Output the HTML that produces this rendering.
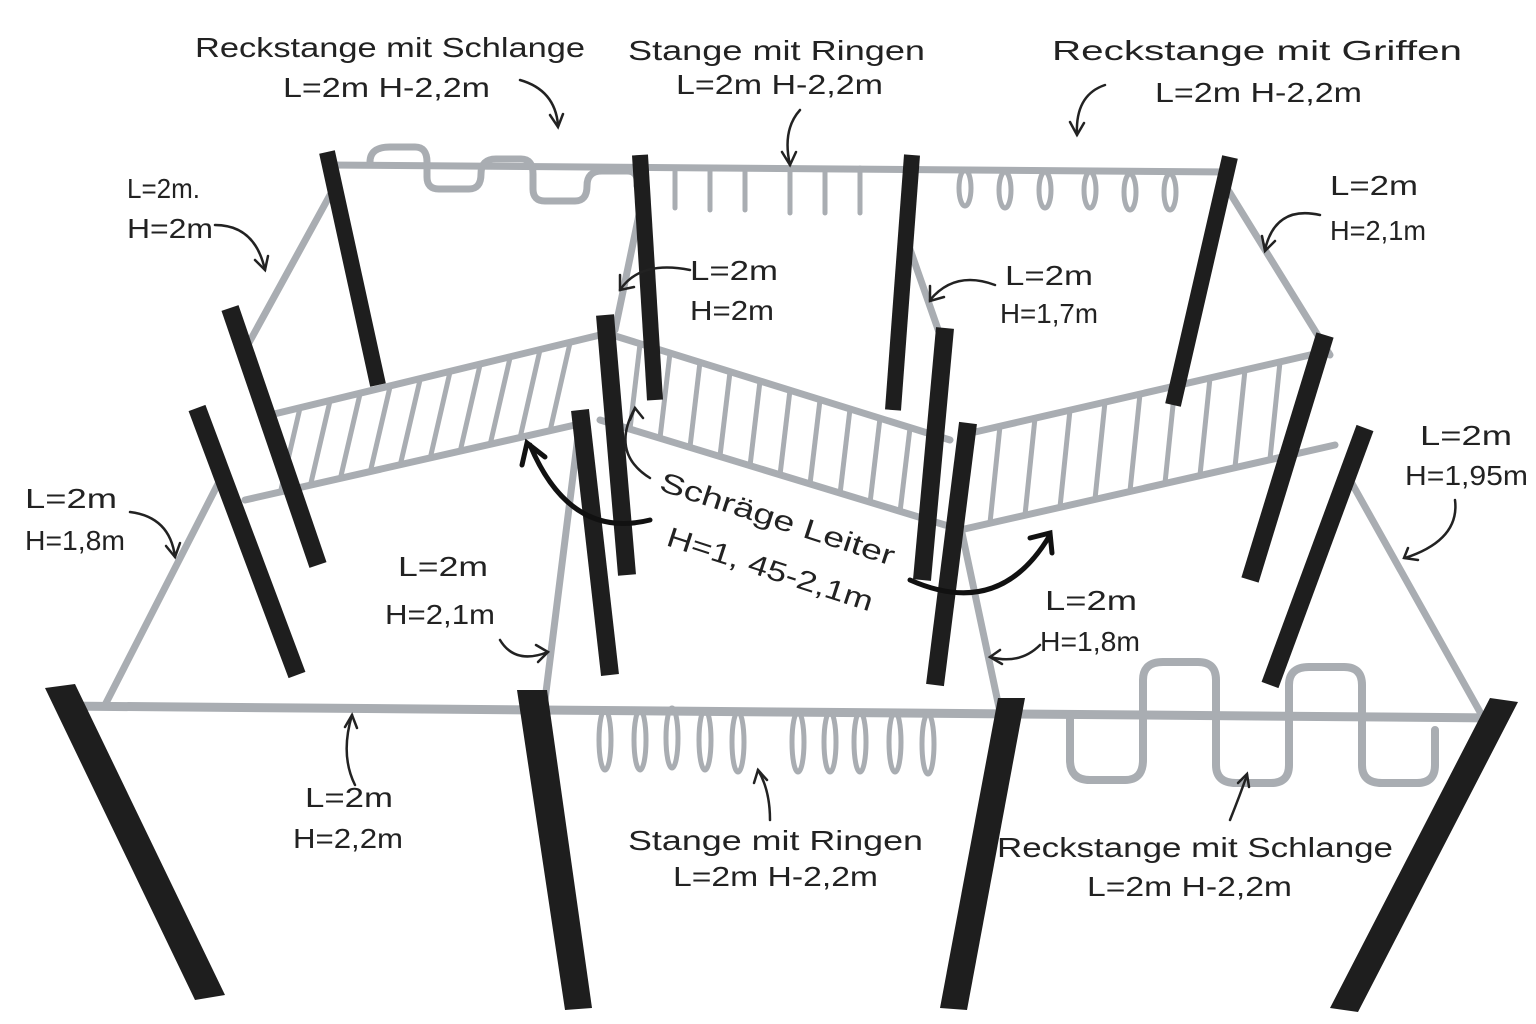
<!DOCTYPE html>
<html><head><meta charset="utf-8"><style>
html,body{margin:0;padding:0;background:#fff;}
svg{display:block;}
text{font-family:"Liberation Sans",sans-serif;font-size:28px;fill:#222;}
</style></head><body>
<svg width="1536" height="1024" viewBox="0 0 1536 1024" xmlns="http://www.w3.org/2000/svg">
<rect width="1536" height="1024" fill="#fff"/>
<g stroke="#a9adb2" stroke-width="7" fill="none" stroke-linecap="round">
<line x1="327" y1="165" x2="1230" y2="172"/>
<path d="M370 162 q0-15 20-15 h25 q12 0 12 15 v15 q0 12 12 12 h30 q12 0 12-15 q0-15 15-15 h25 q12 0 12 15 v15 q0 12 12 12 h30 q12 0 12-15 q0-15 15-15 h25 q12 0 10 15"/>
<g stroke-width="5">
<path d="M675 168 v40"/><path d="M710 168 v42"/><path d="M745 168 v42"/><path d="M790 168 v45"/><path d="M825 168 v45"/><path d="M860 168 v45"/>
<ellipse cx="965" cy="188" rx="6" ry="18"/><ellipse cx="1005" cy="190" rx="6" ry="18"/><ellipse cx="1045" cy="190" rx="6" ry="18"/><ellipse cx="1090" cy="190" rx="6" ry="18"/><ellipse cx="1130" cy="192" rx="6" ry="18"/><ellipse cx="1170" cy="192" rx="6" ry="18"/>
</g>
<line x1="330" y1="195" x2="245" y2="350"/>
<line x1="640" y1="210" x2="615" y2="330"/>
<line x1="905" y1="235" x2="940" y2="335"/>
<line x1="1225" y1="185" x2="1330" y2="355"/>
<line x1="220" y1="480" x2="105" y2="705"/>
<line x1="580" y1="420" x2="545" y2="700"/>
<line x1="955" y1="500" x2="1000" y2="712"/>
<line x1="1350" y1="480" x2="1480" y2="712"/>
<line x1="270" y1="415" x2="600" y2="335"/>
<line x1="245" y1="500" x2="575" y2="425"/>
<line x1="612" y1="335" x2="950" y2="440"/>
<line x1="600" y1="420" x2="945" y2="525"/>
<line x1="975" y1="432" x2="1310" y2="355"/>
<line x1="960" y1="530" x2="1335" y2="445"/>
</g>
<g stroke="#a9adb2" stroke-width="5">
<line x1="300" y1="408" x2="280" y2="494"/><line x1="330" y1="401" x2="310" y2="487"/><line x1="360" y1="394" x2="340" y2="480"/><line x1="390" y1="387" x2="370" y2="473"/><line x1="420" y1="380" x2="400" y2="466"/><line x1="450" y1="372" x2="430" y2="459"/><line x1="480" y1="365" x2="460" y2="452"/><line x1="510" y1="358" x2="490" y2="445"/><line x1="540" y1="350" x2="520" y2="438"/><line x1="570" y1="343" x2="550" y2="431"/>
<line x1="640" y1="344" x2="630" y2="429"/><line x1="670" y1="353" x2="660" y2="438"/><line x1="700" y1="362" x2="690" y2="447"/><line x1="730" y1="372" x2="720" y2="456"/><line x1="760" y1="381" x2="750" y2="466"/><line x1="790" y1="390" x2="780" y2="475"/><line x1="820" y1="400" x2="810" y2="484"/><line x1="850" y1="409" x2="840" y2="494"/><line x1="880" y1="418" x2="870" y2="503"/><line x1="910" y1="428" x2="900" y2="512"/>
<line x1="1000" y1="426" x2="990" y2="523"/><line x1="1035" y1="418" x2="1025" y2="515"/><line x1="1070" y1="410" x2="1060" y2="507"/><line x1="1105" y1="402" x2="1095" y2="499"/><line x1="1140" y1="394" x2="1130" y2="491"/><line x1="1175" y1="386" x2="1165" y2="483"/><line x1="1210" y1="378" x2="1200" y2="475"/><line x1="1245" y1="370" x2="1235" y2="467"/><line x1="1280" y1="362" x2="1270" y2="459"/>
</g>
<g stroke="#1e1e1e" stroke-linecap="butt">
<g stroke-width="16">
<line x1="327" y1="152" x2="378" y2="385"/><line x1="640" y1="155" x2="655" y2="400"/><line x1="912" y1="155" x2="893" y2="410"/><line x1="1230" y1="157" x2="1173" y2="405"/>
</g>
<g stroke-width="18">
<line x1="230" y1="308" x2="318" y2="565"/><line x1="605" y1="315" x2="627" y2="575"/><line x1="945" y1="328" x2="922" y2="580"/><line x1="1325" y1="335" x2="1250" y2="580"/>
<line x1="197" y1="408" x2="297" y2="675"/><line x1="580" y1="410" x2="610" y2="675"/><line x1="968" y1="423" x2="935" y2="685"/><line x1="1365" y1="428" x2="1270" y2="685"/>
</g>
</g>
<g stroke="#a9adb2" fill="none" stroke-linecap="round">
<line x1="60" y1="706" x2="1500" y2="718" stroke-width="9"/>
<g stroke-width="5">
<ellipse cx="605" cy="740" rx="6" ry="30"/><ellipse cx="640" cy="740" rx="6" ry="30"/><ellipse cx="672" cy="738" rx="6" ry="30"/><ellipse cx="705" cy="740" rx="6" ry="30"/><ellipse cx="738" cy="742" rx="6" ry="30"/><ellipse cx="798" cy="742" rx="6" ry="30"/><ellipse cx="830" cy="742" rx="6" ry="30"/><ellipse cx="860" cy="742" rx="6" ry="30"/><ellipse cx="895" cy="742" rx="6" ry="30"/><ellipse cx="928" cy="744" rx="6" ry="30"/>
</g>
<path stroke-width="8" d="M1070 715 v45 q0 20 20 20 h35 q18 0 18-20 v-80 q0-18 20-18 h35 q18 0 18 18 v85 q0 18 20 18 h35 q18 0 18-18 v-80 q0-18 20-18 h35 q18 0 18 18 v80 q0 18 20 18 h35 q18 0 18-18 v-35"/>
</g>
<g fill="#1e1e1e">
<polygon points="45,688 75,684 225,995 195,1000"/>
<polygon points="517,690 547,690 592,1008 565,1010"/>
<polygon points="998,698 1025,698 967,1010 940,1008"/>
<polygon points="1490,698 1518,702 1358,1012 1330,1008"/>
</g>
<g stroke="#222" stroke-width="2.5" fill="none" stroke-linecap="round">
<path d="M520 80 q35 10 38 45"/><path d="M550 115 l8 12 l5-13"/>
<path d="M800 110 q-18 20 -10 55"/><path d="M782 152 l8 13 l6-13"/>
<path d="M1105 85 q-30 10 -28 50"/><path d="M1070 122 l7 13 l7-12"/>
<path d="M215 225 q40 0 50 45"/><path d="M255 260 l10 10 l3-14"/>
<path d="M1320 215 q-45 -10 -55 35"/><path d="M1262 236 l3 15 l10-10"/>
<path d="M690 270 q-50 -10 -70 20"/><path d="M620 275 l0 15 l14-3"/>
<path d="M995 285 q-40 -15 -65 15"/><path d="M930 286 l0 15 l14-4"/>
<path d="M130 512 q40 5 45 45"/><path d="M166 546 l9 11 l5-14"/>
<path d="M1455 500 q5 40 -50 58"/><path d="M1408 548 l-4 10 l14 2"/>
<path d="M500 640 q15 25 48 12"/><path d="M536 645 l12 7 l-10 10"/>
<path d="M1040 645 q-20 20 -50 12"/><path d="M1000 650 l-10 7 l12 7"/>
<path d="M355 785 q-15 -30 -3 -70"/><path d="M345 727 l7 -12 l5 13"/>
<path d="M770 820 q0 -30 -12 -50"/><path d="M754 783 l4 -13 l9 10"/>
<path d="M1230 820 q10 -25 17 -45"/><path d="M1238 783 l9 -9 l2 13"/>
<path d="M650 478 q-40 -25 -15 -70"/><path d="M630 420 l5 -12 l8 10"/>
</g>
<g stroke="#111" stroke-width="5" fill="none" stroke-linecap="round">
<path d="M650 520 q-80 20 -120 -75"/><path d="M522 465 l5 -22 l18 14"/>
<path d="M910 580 q90 40 140 -45"/><path d="M1030 538 l20 -5 l2 20"/>
</g>
<text x="195" y="57" textLength="390" lengthAdjust="spacingAndGlyphs">Reckstange mit Schlange</text>
<text x="283" y="97" textLength="207" lengthAdjust="spacingAndGlyphs">L=2m H-2,2m</text>
<text x="628" y="60" textLength="297" lengthAdjust="spacingAndGlyphs">Stange mit Ringen</text>
<text x="676" y="94" textLength="207" lengthAdjust="spacingAndGlyphs">L=2m H-2,2m</text>
<text x="1052" y="60" textLength="410" lengthAdjust="spacingAndGlyphs">Reckstange mit Griffen</text>
<text x="1155" y="102" textLength="207" lengthAdjust="spacingAndGlyphs">L=2m H-2,2m</text>
<text x="127" y="198" textLength="73" lengthAdjust="spacingAndGlyphs">L=2m.</text>
<text x="127" y="238" textLength="86" lengthAdjust="spacingAndGlyphs">H=2m</text>
<text x="1330" y="195" textLength="88" lengthAdjust="spacingAndGlyphs">L=2m</text>
<text x="1330" y="240" textLength="96" lengthAdjust="spacingAndGlyphs">H=2,1m</text>
<text x="690" y="280" textLength="88" lengthAdjust="spacingAndGlyphs">L=2m</text>
<text x="690" y="320" textLength="84" lengthAdjust="spacingAndGlyphs">H=2m</text>
<text x="1005" y="285" textLength="88" lengthAdjust="spacingAndGlyphs">L=2m</text>
<text x="1000" y="323" textLength="98" lengthAdjust="spacingAndGlyphs">H=1,7m</text>
<text x="1420" y="445" textLength="92" lengthAdjust="spacingAndGlyphs">L=2m</text>
<text x="1405" y="485" textLength="123" lengthAdjust="spacingAndGlyphs">H=1,95m</text>
<text x="25" y="508" textLength="92" lengthAdjust="spacingAndGlyphs">L=2m</text>
<text x="25" y="550" textLength="100" lengthAdjust="spacingAndGlyphs">H=1,8m</text>
<text x="658" y="490" transform="rotate(18 658 490)" textLength="245" lengthAdjust="spacingAndGlyphs">Schräge Leiter</text>
<text x="665" y="545" transform="rotate(18 665 545)" textLength="215" lengthAdjust="spacingAndGlyphs">H=1, 45-2,1m</text>
<text x="398" y="576" textLength="90" lengthAdjust="spacingAndGlyphs">L=2m</text>
<text x="385" y="624" textLength="110" lengthAdjust="spacingAndGlyphs">H=2,1m</text>
<text x="1045" y="610" textLength="92" lengthAdjust="spacingAndGlyphs">L=2m</text>
<text x="1040" y="651" textLength="100" lengthAdjust="spacingAndGlyphs">H=1,8m</text>
<text x="305" y="807" textLength="88" lengthAdjust="spacingAndGlyphs">L=2m</text>
<text x="293" y="848" textLength="110" lengthAdjust="spacingAndGlyphs">H=2,2m</text>
<text x="628" y="850" textLength="295" lengthAdjust="spacingAndGlyphs">Stange mit Ringen</text>
<text x="673" y="886" textLength="205" lengthAdjust="spacingAndGlyphs">L=2m H-2,2m</text>
<text x="997" y="857" textLength="396" lengthAdjust="spacingAndGlyphs">Reckstange mit Schlange</text>
<text x="1087" y="896" textLength="205" lengthAdjust="spacingAndGlyphs">L=2m H-2,2m</text>
</svg>
</body></html>
